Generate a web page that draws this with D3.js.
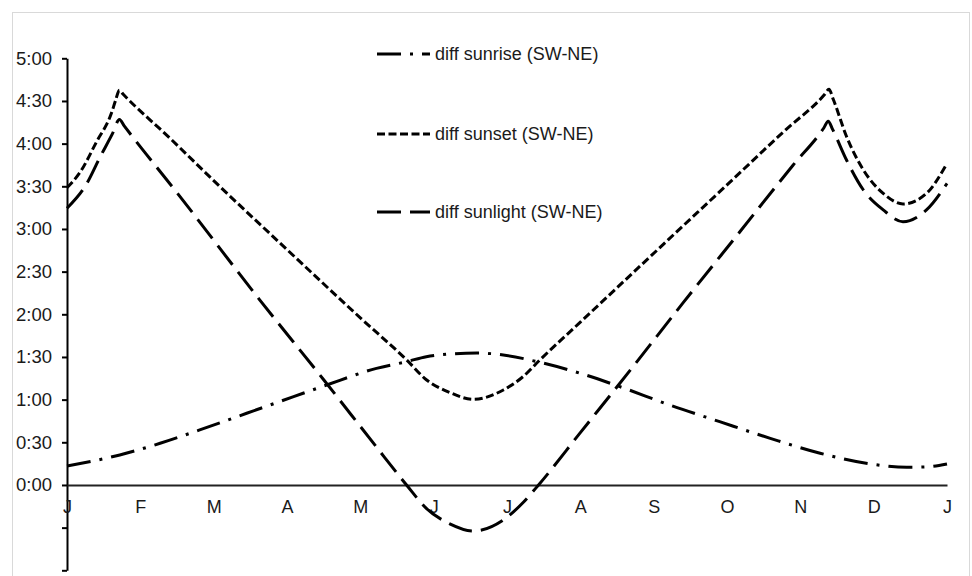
<!DOCTYPE html>
<html>
<head>
<meta charset="utf-8">
<script src="https://cdn.jsdelivr.net/npm/d3@7"></script>
<style>
  html, body { margin: 0; padding: 0; background: #fff; }
  svg { display: block; font-family: "Liberation Sans", Arial, sans-serif; }
</style>
</head>
<body>
<svg id="chart" width="972" height="576"></svg>
<script>
// ---- data (x = months since 1 Jan, y = minutes) ----
const monthLabels = ["J","F","M","A","M","J","J","A","S","O","N","D","J"];
const yTickValues = [-60,-30,0,30,60,90,120,150,180,210,240,270,300];

const sunrise = [
  [0,13.4],[0.72,21.1],[1.27,29.3],[1.81,38.7],[2.45,50.4],[3.09,62.1],[3.54,70.3],
  [4.22,82],[4.63,86.7],[4.9,90.2],[5.25,92.2],[5.59,92.8],[5.95,91.4],[6.41,86.7],
  [7.0,78.5],[7.54,69.1],[8.22,56.2],[8.9,44.5],[9.59,32.8],[10.27,22.3],[10.95,14.8],
  [11.45,12.4],[11.75,12.8],[12,14.8]
];
const sunset = [
  [0,209],[0.18,220],[0.40,241],[0.61,262],[0.66,270],[0.715,277.5],[0.77,274.5],
  [1.4,244],[2.0,214],[3.0,165.5],[4.0,117.5],[4.63,88],[4.9,74],[5.22,65],[5.54,60.2],
  [5.95,66.8],[6.22,76.2],[6.45,88],[7.0,114.5],[7.6,143.5],[8.2,172.5],[9.0,211],
  [9.8,249.7],[10.33,274.5],[10.39,278.2],[10.45,271],
  [10.63,245],[10.86,221.5],[11.13,205],[11.4,197.6],[11.72,205],[12,226]
];
const sunlight = [
  [0,194.6],[0.27,212],[0.45,230.5],[0.62,247],[0.715,257],[0.78,252.5],
  [1.5,205.5],[2.63,130],[3.5,74],[4.2,28],[4.63,0],[4.9,-16.4],[5.22,-27.3],[5.54,-32.4],
  [5.95,-24.6],[6.22,-12.3],[6.43,0],[7.0,36.8],[7.7,82],[8.4,128],[9.2,179.6],[9.9,224.8],
  [10.32,251],[10.38,255.8],[10.44,250],
  [10.63,228.5],[10.86,207.4],[11.13,193.4],[11.4,185.1],[11.72,193.4],[12,212]
];

const seriesNames = ["diff sunrise (SW-NE)","diff sunset (SW-NE)","diff sunlight (SW-NE)"];
const seriesData = [sunrise, sunset, sunlight];
const seriesDash = ["24 9 3 9", "8 3.5", "24 9"];

// ---- layout ----
const svg = d3.select("#chart");
const x = d3.scaleLinear().domain([0, 12]).range([67, 947]);
const y = d3.scaleLinear().domain([-60, 300]).range([570.3, 58.3]);

// outer chart border
svg.append("rect")
  .attr("x", 12.5).attr("y", 12.5)
  .attr("width", 957).attr("height", 600)
  .attr("fill", "none").attr("stroke", "#d9d9d9").attr("stroke-width", 1);

const fmt = m => Math.floor(m / 60) + ":" + String(m % 60).padStart(2, "0");

// y axis
const yAxis = svg.append("g")
  .attr("transform", "translate(" + x(0) + ",0)")
  .call(d3.axisLeft(y).tickValues(yTickValues).tickSizeInner(5).tickSizeOuter(0)
        .tickPadding(10).tickFormat(d => d >= 0 ? fmt(d) : ""));
yAxis.select(".domain").attr("stroke", "#000").attr("stroke-width", 2);
yAxis.selectAll(".tick line").attr("stroke", "#000").attr("stroke-width", 2);
yAxis.selectAll(".tick text").attr("font-size", 18.5).attr("fill", "#1a1a1a")
  .attr("font-family", "'Liberation Sans', Arial, sans-serif");

// x axis at zero
const xAxis = svg.append("g")
  .attr("transform", "translate(0," + y(0) + ")")
  .call(d3.axisBottom(x).tickValues(d3.range(13)).tickSizeInner(0).tickSizeOuter(0)
        .tickPadding(15).tickFormat((d, i) => monthLabels[i]));
xAxis.select(".domain").attr("stroke", "#222").attr("stroke-width", 2);
xAxis.selectAll(".tick text").attr("font-size", 18).attr("fill", "#1a1a1a")
  .attr("font-family", "'Liberation Sans', Arial, sans-serif");

// series lines
const line = d3.line()
  .x(d => x(d[0])).y(d => y(d[1]))
  .curve(d3.curveMonotoneX);

seriesData.forEach((data, i) => {
  svg.append("path")
    .datum(data)
    .attr("d", line)
    .attr("fill", "none")
    .attr("stroke", "#000")
    .attr("stroke-width", 3)
    .attr("stroke-dasharray", seriesDash[i])
    .attr("stroke-linejoin", "round");
});

// legend
const legendY = [54, 134, 212];
const legend = svg.append("g");
seriesNames.forEach((name, i) => {
  legend.append("line")
    .attr("x1", 377).attr("x2", 430)
    .attr("y1", legendY[i]).attr("y2", legendY[i])
    .attr("stroke", "#000").attr("stroke-width", 3)
    .attr("stroke-dasharray", seriesDash[i]);
  legend.append("text")
    .attr("x", 435).attr("y", legendY[i])
    .attr("dy", "0.35em")
    .attr("font-size", 18)
    .attr("fill", "#1a1a1a")
    .text(name);
});
</script>
</body>
</html>
